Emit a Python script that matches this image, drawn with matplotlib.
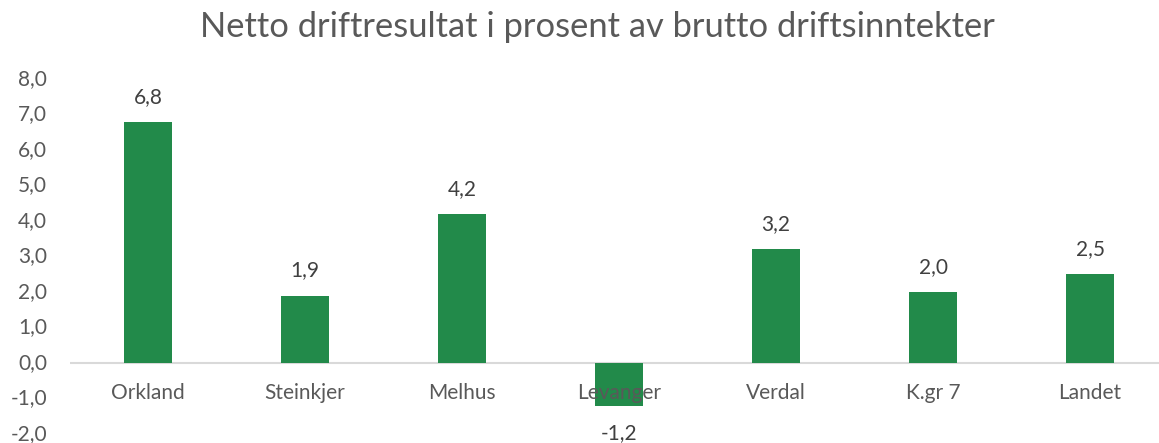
import matplotlib
matplotlib.use("Agg")
import matplotlib.pyplot as plt
import matplotlib.transforms as mtransforms
from matplotlib.ticker import FuncFormatter

categories = ["Orkland", "Steinkjer", "Melhus", "Levanger", "Verdal", "K.gr 7", "Landet"]
values = [6.8, 1.9, 4.2, -1.2, 3.2, 2.0, 2.5]
title = "Netto driftresultat i prosent av brutto driftsinntekter"

plt.rcParams['font.family'] = ['Lato', 'DejaVu Sans']

fig = plt.figure(figsize=(11.59, 4.43), dpi=100)
ax = fig.add_axes([69.5/1159, 1-434/443, 1099/1159, (434-79)/443])

green = "#228A4A"
x = list(range(len(categories)))
ax.bar(x, values, width=0.31, color=green, zorder=3)
ax.set_xlim(-0.5, len(categories)-0.5)
ax.set_ylim(-2, 8)
ax.set_yticks(range(-2, 9))
ax.yaxis.set_major_formatter(FuncFormatter(lambda v, p: f"{v:.1f}".replace(".", ",")))
ax.tick_params(axis='y', length=0, labelsize=15, labelcolor="#595959", pad=16)
shift = mtransforms.ScaledTranslation(0, 2/100, fig.dpi_scale_trans)
for lbl in ax.get_yticklabels():
    lbl.set_transform(lbl.get_transform() + shift)
ax.set_xticks([])
for s in ax.spines.values():
    s.set_visible(False)
ax.axhline(0, color="#D9D9D9", lw=1.5, zorder=2)

for xi, v, c in zip(x, values, categories):
    off = 25 if v >= 0 else -27
    ax.annotate(f"{v:.1f}".replace(".", ","), (xi, v), xytext=(0, off),
                textcoords="offset pixels", ha="center", va="center",
                fontsize=15, color="#404040", zorder=4)
    ax.annotate(c, (xi, 0), xytext=(0, -30), textcoords="offset pixels",
                ha="center", va="center", fontsize=15, color="#595959", zorder=5)

fig.text(597/1159, 1-27/443, title, ha="center", va="center",
         fontsize=24.8, color="#595959")

fig.savefig("out.png", dpi=100)
